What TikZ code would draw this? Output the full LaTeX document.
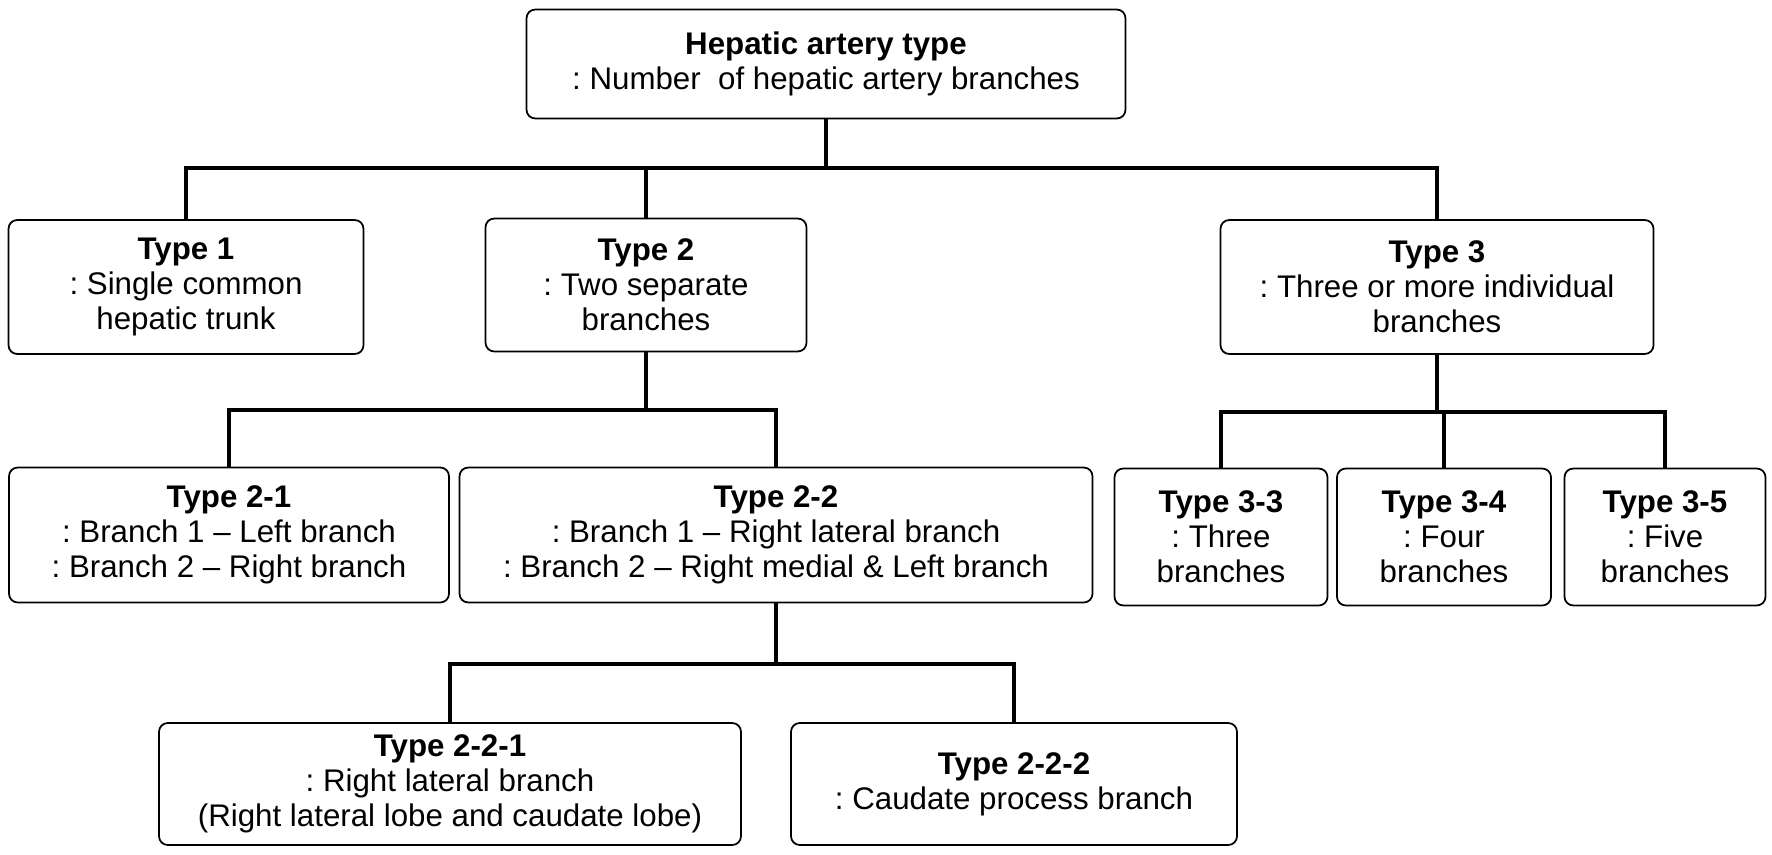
\documentclass[tikz,border=0pt]{standalone}
\usepackage{fontspec}
\setmainfont{Liberation Sans}
\usepackage{tikz}
\usetikzlibrary{positioning}
\frenchspacing

\begin{document}
\begin{tikzpicture}[x=0.02cm, y=-0.02cm,
        typebox/.style={draw, rounded corners=5pt, line width=1pt, align=center,
            inner sep=0pt, font=\fontsize{17.8}{19.8}\selectfont},
        link/.style={line width=2.4pt}]
        \useasboundingbox (0, 0) rectangle (1772, 855);

        \node[typebox, minimum width=599*0.02cm, minimum height=109*0.02cm] (top) at (826, 64) {\textbf{Hepatic artery type}\\: Number~~of hepatic artery branches};

        \node[typebox, minimum width=355*0.02cm, minimum height=134*0.02cm] (t1) at (186, 287) {\textbf{Type 1}\\: Single common\\hepatic trunk};
        \node[typebox, minimum width=321*0.02cm, minimum height=133*0.02cm] (t2) at (646, 285) {\textbf{Type 2}\\: Two separate\\branches};
        \node[typebox, minimum width=433*0.02cm, minimum height=134*0.02cm] (t3) at (1437, 287) {\textbf{Type 3}\\: Three or more individual\\branches};

        \node[typebox, minimum width=440*0.02cm, minimum height=135*0.02cm] (t21) at (229, 535) {\textbf{Type 2-1}\\: Branch 1 – Left branch\\: Branch 2 – Right branch};
        \node[typebox, minimum width=633*0.02cm, minimum height=135*0.02cm] (t22) at (776, 535) {\textbf{Type 2-2}\\: Branch 1 – Right lateral branch\\: Branch 2 – Right medial \& Left branch};

        \node[typebox, minimum width=213*0.02cm, minimum height=137*0.02cm] (t33) at (1221, 537) {\textbf{Type 3-3}\\: Three\\branches};
        \node[typebox, minimum width=214*0.02cm, minimum height=137*0.02cm] (t34) at (1444, 537) {\textbf{Type 3-4}\\: Four\\branches};
        \node[typebox, minimum width=201*0.02cm, minimum height=137*0.02cm] (t35) at (1665, 537) {\textbf{Type 3-5}\\: Five\\branches};

        \node[typebox, minimum width=582*0.02cm, minimum height=122*0.02cm] (t221) at (450, 784) {\textbf{Type 2-2-1}\\: Right lateral branch\\(Right lateral lobe and caudate lobe)};
        \node[typebox, minimum width=446*0.02cm, minimum height=122*0.02cm] (t222) at (1014, 784) {\textbf{Type 2-2-2}\\: Caudate process branch};

        % bus levels
        \coordinate (bus0) at (0, 168);
        \coordinate (bus2) at (0, 410);
        \coordinate (bus3) at (0, 412);
        \coordinate (bus22) at (0, 664);

        \draw[link] (top.south) |- (t1.north |- bus0) -- (t1.north)
            (t2.north |- bus0) -- (t2.north)
            (top.south |- bus0) -| (t3.north);

        \draw[link] (t2.south) |- (t21.north |- bus2) -- (t21.north)
            (t2.south |- bus2) -| (t22.north);

        \draw[link] (t3.south) |- (t33.north |- bus3) -- (t33.north)
            (t3.south |- bus3) -| (t35.north)
            (t34.north |- bus3) -- (t34.north);

        \draw[link] (t22.south) |- (t221.north |- bus22) -- (t221.north)
            (t22.south |- bus22) -| (t222.north);
    \end{tikzpicture}
\end{document}
